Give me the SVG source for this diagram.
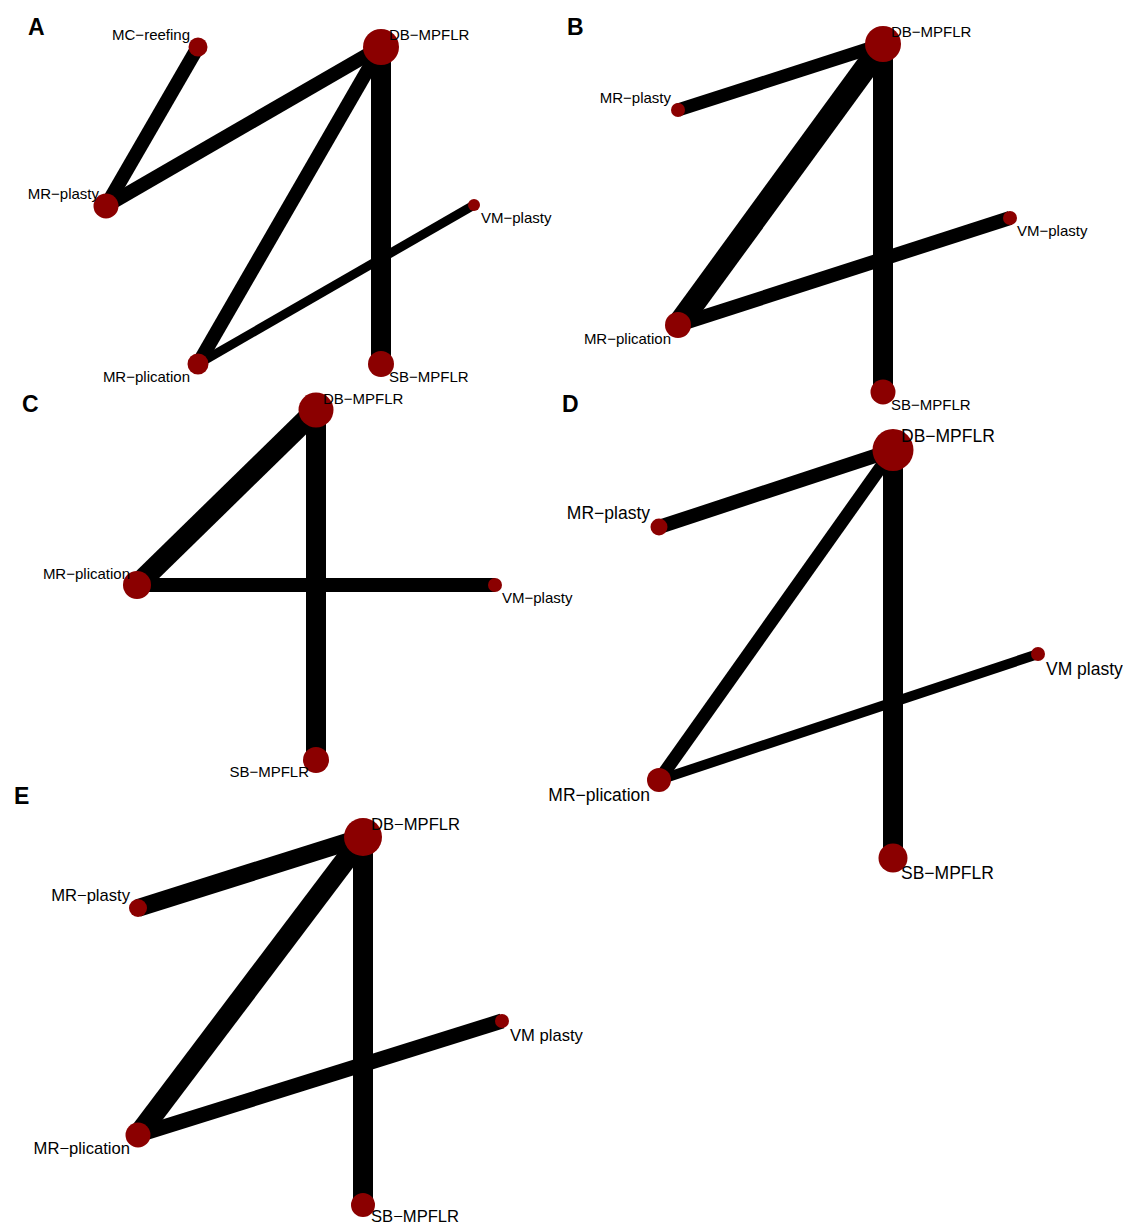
<svg xmlns="http://www.w3.org/2000/svg" width="1123" height="1224" viewBox="0 0 1123 1224">
<style>
.e{stroke:#000;stroke-linecap:butt;fill:none}
.n{fill:#8B0000}
.t{font-family:"Liberation Sans",Arial,sans-serif;fill:#000}
.s15{font-size:15px}
.s17{font-size:16.6px}
.s18{font-size:17.5px}
.p{font-family:"Liberation Sans",Arial,sans-serif;font-weight:bold;font-size:23px;fill:#000}
</style>
<rect width="1123" height="1224" fill="#fff"/>

<!-- Panel A -->
<g id="panelA">
<text class="p" x="28" y="35">A</text>
<g id="A-edges">
<line class="e" x1="198" y1="47" x2="106" y2="206" stroke-width="14"/>
<line class="e" x1="106" y1="206" x2="381" y2="47" stroke-width="14"/>
<line class="e" x1="381" y1="47" x2="198" y2="364" stroke-width="14"/>
<line class="e" x1="381" y1="47" x2="381" y2="364" stroke-width="20"/>
<line class="e" x1="198" y1="364" x2="474" y2="205" stroke-width="9"/>
</g>
<g id="A-MC-reefing"><circle class="n" cx="198" cy="47" r="9.5"/><text class="t s15" x="190" y="40" text-anchor="end">MC−reefing</text></g>
<g id="A-DB-MPFLR"><circle class="n" cx="381" cy="47" r="18"/><text class="t s15" x="389" y="40">DB−MPFLR</text></g>
<g id="A-MR-plasty"><circle class="n" cx="106" cy="206" r="12.5"/><text class="t s15" x="99" y="199" text-anchor="end">MR−plasty</text></g>
<g id="A-VM-plasty"><circle class="n" cx="474" cy="205" r="6"/><text class="t s15" x="481" y="223">VM−plasty</text></g>
<g id="A-MR-plication"><circle class="n" cx="198" cy="364" r="10.5"/><text class="t s15" x="190" y="382" text-anchor="end">MR−plication</text></g>
<g id="A-SB-MPFLR"><circle class="n" cx="381" cy="364" r="13"/><text class="t s15" x="389" y="382">SB−MPFLR</text></g>
</g>

<!-- Panel B -->
<g id="panelB">
<text class="p" x="567" y="35">B</text>
<g id="B-edges">
<line class="e" x1="883" y1="44" x2="678" y2="110" stroke-width="13"/>
<line class="e" x1="883" y1="44" x2="678" y2="325" stroke-width="23"/>
<line class="e" x1="883" y1="44" x2="883" y2="392" stroke-width="20"/>
<line class="e" x1="678" y1="325" x2="1010" y2="218" stroke-width="14"/>
</g>
<g id="B-DB-MPFLR"><circle class="n" cx="883" cy="44" r="18"/><text class="t s15" x="891" y="37">DB−MPFLR</text></g>
<g id="B-MR-plasty"><circle class="n" cx="678" cy="110" r="7"/><text class="t s15" x="671" y="103" text-anchor="end">MR−plasty</text></g>
<g id="B-VM-plasty"><circle class="n" cx="1010" cy="218" r="7"/><text class="t s15" x="1017" y="236">VM−plasty</text></g>
<g id="B-MR-plication"><circle class="n" cx="678" cy="325" r="13"/><text class="t s15" x="671" y="344" text-anchor="end">MR−plication</text></g>
<g id="B-SB-MPFLR"><circle class="n" cx="883" cy="392" r="12.5"/><text class="t s15" x="891" y="410">SB−MPFLR</text></g>
</g>

<!-- Panel C -->
<g id="panelC">
<text class="p" x="22" y="412">C</text>
<g id="C-edges">
<line class="e" x1="316" y1="410" x2="137" y2="585" stroke-width="21"/>
<line class="e" x1="316" y1="410" x2="316" y2="760" stroke-width="20"/>
<line class="e" x1="137" y1="585" x2="495" y2="585" stroke-width="14"/>
</g>
<g id="C-DB-MPFLR"><circle class="n" cx="316" cy="410" r="17.5"/><text class="t s15" x="323" y="404">DB−MPFLR</text></g>
<g id="C-MR-plication"><circle class="n" cx="137" cy="585" r="14"/><text class="t s15" x="130" y="579" text-anchor="end">MR−plication</text></g>
<g id="C-VM-plasty"><circle class="n" cx="495" cy="585" r="7"/><text class="t s15" x="502" y="603">VM−plasty</text></g>
<g id="C-SB-MPFLR"><circle class="n" cx="316" cy="760" r="13"/><text class="t s15" x="309" y="777" text-anchor="end">SB−MPFLR</text></g>
</g>

<!-- Panel D -->
<g id="panelD">
<text class="p" x="562" y="412">D</text>
<g id="D-edges">
<line class="e" x1="893" y1="450" x2="659" y2="527" stroke-width="14"/>
<line class="e" x1="893" y1="450" x2="659" y2="780" stroke-width="13"/>
<line class="e" x1="893" y1="450" x2="893" y2="858" stroke-width="20"/>
<line class="e" x1="659" y1="780" x2="1038" y2="654" stroke-width="10"/>
</g>
<g id="D-DB-MPFLR"><ellipse class="n" cx="893" cy="450" rx="20.5" ry="21"/><text class="t s18" x="901" y="442">DB−MPFLR</text></g>
<g id="D-MR-plasty"><circle class="n" cx="659" cy="527" r="8.5"/><text class="t s18" x="650" y="519" text-anchor="end">MR−plasty</text></g>
<g id="D-VM-plasty"><circle class="n" cx="1038" cy="654" r="7"/><text class="t s18" x="1046" y="675">VM plasty</text></g>
<g id="D-MR-plication"><circle class="n" cx="659" cy="780" r="12"/><text class="t s18" x="650" y="801" text-anchor="end">MR−plication</text></g>
<g id="D-SB-MPFLR"><circle class="n" cx="893" cy="858" r="14.5"/><text class="t s18" x="901" y="879">SB−MPFLR</text></g>
</g>

<!-- Panel E -->
<g id="panelE">
<text class="p" x="14" y="804">E</text>
<g id="E-edges">
<line class="e" x1="363" y1="837" x2="138" y2="908" stroke-width="18"/>
<line class="e" x1="363" y1="837" x2="138" y2="1135" stroke-width="21"/>
<line class="e" x1="363" y1="837" x2="363" y2="1205" stroke-width="20"/>
<line class="e" x1="138" y1="1135" x2="502" y2="1021" stroke-width="15"/>
</g>
<g id="E-DB-MPFLR"><circle class="n" cx="363" cy="837" r="19"/><text class="t s17" x="371" y="830">DB−MPFLR</text></g>
<g id="E-MR-plasty"><circle class="n" cx="138" cy="908" r="9"/><text class="t s17" x="130" y="901" text-anchor="end">MR−plasty</text></g>
<g id="E-VM-plasty"><circle class="n" cx="502" cy="1021" r="7"/><text class="t s17" x="510" y="1041">VM plasty</text></g>
<g id="E-MR-plication"><circle class="n" cx="138" cy="1135" r="12.5"/><text class="t s17" x="130" y="1154" text-anchor="end">MR−plication</text></g>
<g id="E-SB-MPFLR"><circle class="n" cx="363" cy="1205" r="12"/><text class="t s17" x="371" y="1222">SB−MPFLR</text></g>
</g>
</svg>
